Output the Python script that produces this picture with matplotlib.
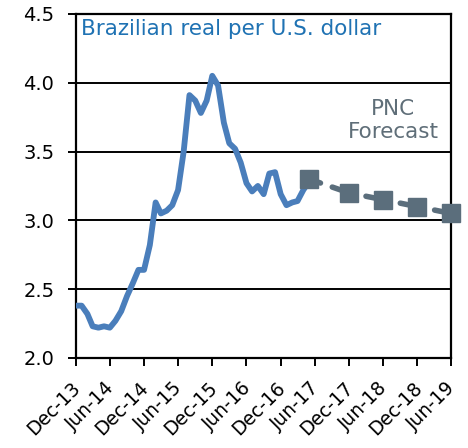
import numpy as np
import pandas as pd
import matplotlib
matplotlib.use("Agg")
import matplotlib.pyplot as plt
import matplotlib.transforms as mtransforms

# Monthly BRL per USD, Dec-13 onward
actual_values = [2.38, 2.38, 2.32, 2.23, 2.22, 2.23, 2.22, 2.27, 2.34, 2.45,
                 2.54, 2.64, 2.64, 2.82, 3.13, 3.05, 3.07, 3.11, 3.22, 3.50,
                 3.91, 3.87, 3.78, 3.87, 4.05, 3.98, 3.71, 3.56, 3.52, 3.42,
                 3.27, 3.21, 3.25, 3.19, 3.34, 3.35, 3.19, 3.11, 3.13, 3.14,
                 3.22, 3.28]
actual_dates = pd.date_range("2013-12-01", periods=len(actual_values), freq="MS")

forecast_dates = pd.to_datetime(["2017-05-01", "2017-12-01", "2018-06-01",
                                 "2018-12-01", "2019-06-01"])
forecast_values = [3.30, 3.20, 3.15, 3.10, 3.05]

tick_dates = pd.date_range("2013-12-01", "2019-06-01", freq="6MS")
tick_labels = [d.strftime("%b-%y") for d in tick_dates]

plt.rcParams['font.family'] = ['DejaVu Sans']

fig = plt.figure(figsize=(4.68, 4.48), dpi=100)
ax = fig.add_axes([0.162, 0.201, 0.802, 0.768])

for y in [2.5, 3.0, 3.5, 4.0]:
    ax.axhline(y, color="black", lw=1.4, zorder=1)

ax.plot(actual_dates, actual_values, color="#4a7ebb", lw=4.2,
        solid_joinstyle="round", solid_capstyle="round", zorder=3)
ax.plot(forecast_dates, forecast_values, color="#5b6e7c", lw=4.0,
        linestyle=(1.85, (4.05, 2.25)), marker="s", markersize=13,
        dash_capstyle="round", zorder=4, clip_on=False)

ax.set_ylim(2.0, 4.5)
ax.set_yticks([2.0, 2.5, 3.0, 3.5, 4.0, 4.5])
ax.set_yticklabels(["2.0", "2.5", "3.0", "3.5", "4.0", "4.5"])
ax.set_xlim(tick_dates[0], tick_dates[-1])
ax.set_xticks(tick_dates)
ax.set_xticklabels(tick_labels, rotation=45, ha="right", rotation_mode="anchor")

ax.tick_params(axis="both", width=1.4, length=5.5, direction="out", colors="black")
ax.tick_params(axis="y", labelsize=14, pad=10)
ax.tick_params(axis="x", labelsize=13.5, pad=9)
shift = mtransforms.ScaledTranslation(-5 / 100, 0, fig.dpi_scale_trans)
for lab in ax.get_xticklabels():
    lab.set_transform(lab.get_transform() + shift)
for s in ax.spines.values():
    s.set_linewidth(1.6)
    s.set_color("black")

ax.text(0.013, 0.985, "Brazilian real per U.S. dollar", transform=ax.transAxes,
        ha="left", va="top", fontsize=15.5, color="#1f72b3")
ax.text(0.845, 0.689, "PNC\nForecast", transform=ax.transAxes,
        ha="center", va="center", fontsize=15.5, color="#5f6e78", linespacing=1.2)

fig.savefig("out.png", dpi=100)
